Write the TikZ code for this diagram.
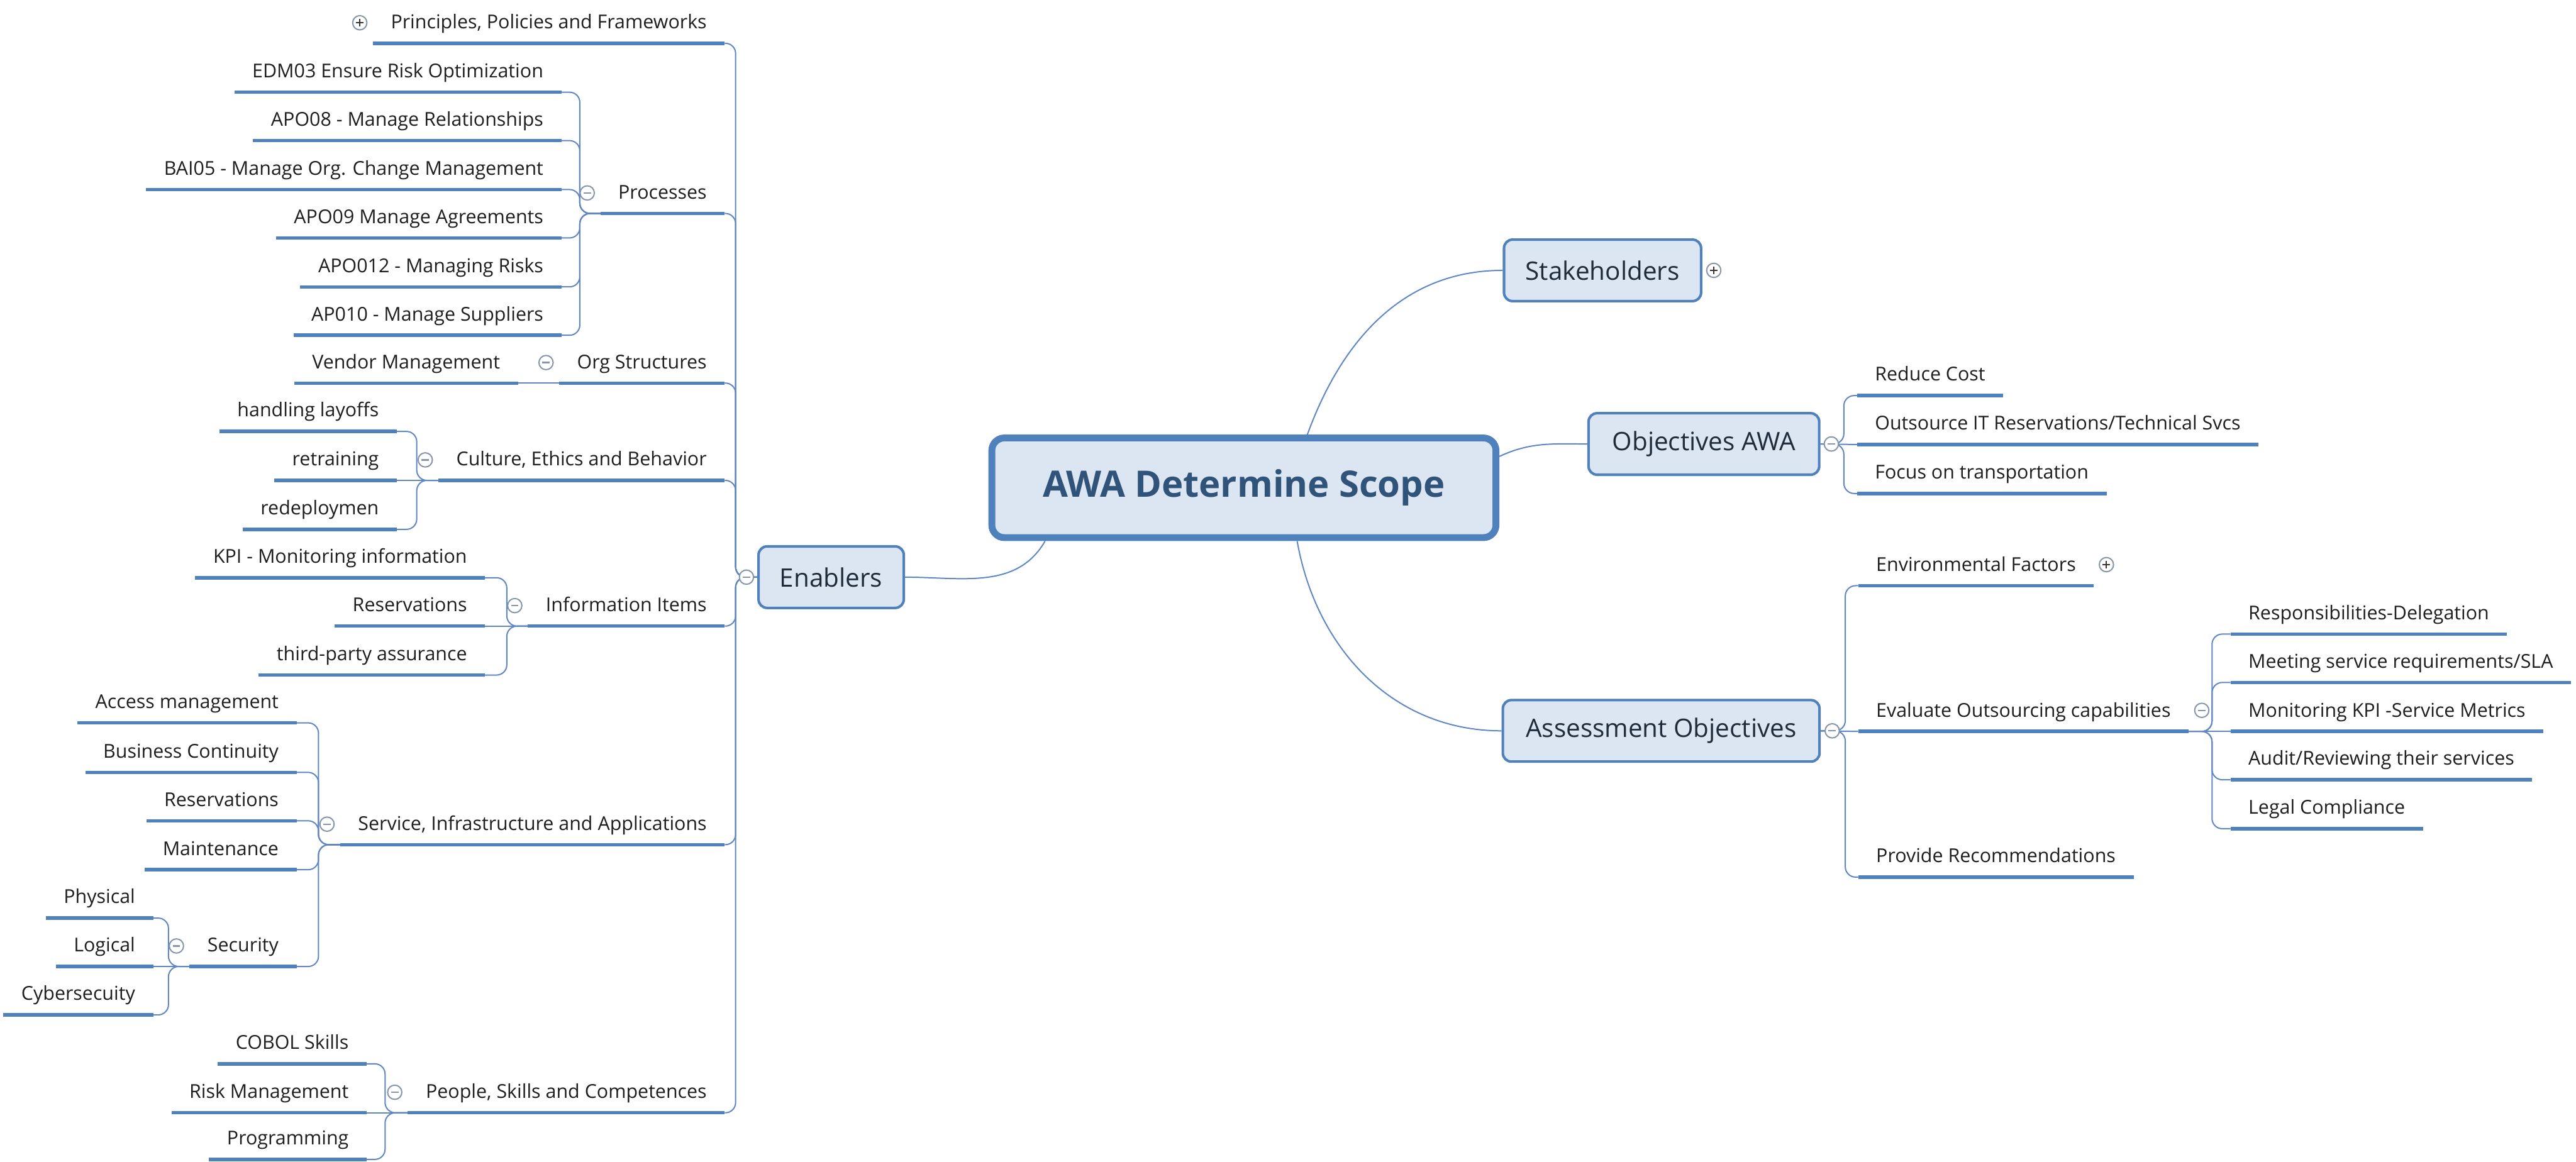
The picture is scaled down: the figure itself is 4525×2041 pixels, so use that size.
\documentclass[tikz,border=0pt]{standalone}
\usepackage{fontspec}
\setmainfont{Open Sans}
\usetikzlibrary{positioning, calc}
\definecolor{ulblue}{HTML}{4F81BD}
\definecolor{lnblue}{HTML}{5F87C6}
\definecolor{boxfill}{HTML}{DCE6F2}
\definecolor{roottxt}{HTML}{30537A}
\definecolor{topictxt}{HTML}{1F2B3A}
\definecolor{leaftxt}{HTML}{1E1E1E}
\definecolor{icongray}{HTML}{8596AC}
\begin{document}
\begin{tikzpicture}[x=0.01cm, y=-0.01cm, line width=.9pt]
% Block styles
\tikzstyle{root}=[draw=ulblue, fill=boxfill, line width=0.12cm, rounded corners=0.22cm, minimum width=8.85cm, minimum height=1.75cm, text=roottxt, font=\fontsize{18.2}{21}\selectfont\bfseries]
\tikzstyle{topic}=[draw=ulblue, fill=boxfill, line width=0.045cm, rounded corners=0.15cm, minimum height=1.08cm, text=topictxt, font=\fontsize{12.7}{15}\selectfont]
\tikzstyle{sub}=[inner xsep=0.3cm, inner ysep=0pt, text height=0.3cm, text depth=0.24cm, text=leaftxt, font=\fontsize{9.55}{11}\selectfont]
\tikzstyle{subl}=[sub, anchor=south east]
\tikzstyle{subr}=[sub, anchor=south west]
\tikzstyle{ul}=[draw=ulblue, line width=0.06cm]
\tikzstyle{conn}=[draw=lnblue, line width=0.022cm]
\tikzstyle{brk}=[conn, rounded corners=0.18cm]
\tikzstyle{togm}=[circle, draw=icongray, fill=white, line width=0.022cm, minimum size=0.25cm, inner sep=0pt, path picture={\draw[icongray, line width=0.025cm] ([xshift=0.06cm]path picture bounding box.west) -- ([xshift=-0.06cm]path picture bounding box.east);}]
\tikzstyle{togp}=[circle, draw=icongray, fill=white, line width=0.022cm, minimum size=0.25cm, inner sep=0pt, path picture={\draw[black!80, line width=0.025cm] ([xshift=0.06cm]path picture bounding box.west) -- ([xshift=-0.06cm]path picture bounding box.east) ([yshift=0.06cm]path picture bounding box.south) -- ([yshift=-0.06cm]path picture bounding box.north);}]
\path[use as bounding box, fill=white] (0,0) rectangle (4525,2041);
% Central and main topics
\node[root] (root) at (2185,857) {AWA Determine Scope};
\node[topic, minimum width=2.55cm] (enab) at (1460,1014) {Enablers};
\node[topic, minimum width=3.46cm] (stake) at (2815,475) {Stakeholders};
\node[topic, minimum width=4.05cm] (obj) at (2993,780) {Objectives AWA};
\node[topic, minimum width=5.56cm] (assess) at (2918,1284) {Assessment Objectives};
% Enablers
\node[subl] (prin) at (1273,76) {Principles, Policies and Frameworks};
\node[subl] (proc) at (1273,375) {Processes};
\node[subl] (org) at (1273,673) {Org Structures};
\node[subl] (cult) at (1273,844) {Culture, Ethics and Behavior};
\node[subl] (info) at (1273,1100) {Information Items};
\node[subl] (serv) at (1273,1484) {Service, Infrastructure and Applications};
\node[subl] (ppl) at (1273,1955) {People, Skills and Competences};
% Processes
\node[subl] (edm) at (986,162) {EDM03 Ensure Risk Optimization};
\node[subl] (apo8) at (986,247) {APO08 - Manage Relationships};
\node[subl] (bai) at (986,333) {BAI05 - Manage Org. Change Management};
\node[subl] (apo9) at (986,418) {APO09 Manage Agreements};
\node[subl] (apo12) at (986,504) {APO012 - Managing Risks};
\node[subl] (ap10) at (986,589) {AP010 - Manage Suppliers};
% Org, culture, information
\node[subl] (vend) at (910,673) {Vendor Management};
\node[subl] (layo) at (697,758) {handling layoffs};
\node[subl] (retr) at (697,844) {retraining};
\node[subl] (rede) at (697,930) {redeploymen};
\node[subl] (kpi) at (852,1015) {KPI - Monitoring information};
\node[subl] (resv) at (852,1100) {Reservations};
\node[subl] (tpa) at (852,1186) {third-party assurance};
% Service, infrastructure
\node[subl] (acc) at (521,1270) {Access management};
\node[subl] (bcont) at (521,1357) {Business Continuity};
\node[subl] (resv2) at (521,1442) {Reservations};
\node[subl] (maint) at (521,1528) {Maintenance};
\node[subl] (sec) at (521,1698) {Security};
\node[subl] (phys) at (269,1613) {Physical};
\node[subl] (logi) at (269,1698) {Logical};
\node[subl] (cyber) at (269,1783) {Cybersecuity};
% People
\node[subl] (cobol) at (644,1869) {COBOL Skills};
\node[subl] (riskm) at (644,1955) {Risk Management};
\node[subl] (prog) at (644,2037) {Programming};
% Objectives
\node[subr] (rcost) at (3262,695) {Reduce Cost};
\node[subr] (outs) at (3262,781) {Outsource IT Reservations/Technical Svcs};
\node[subr] (focus) at (3262,867) {Focus on transportation};
% Assessment
\node[subr] (envf) at (3264,1029) {Environmental Factors};
\node[subr] (evalo) at (3264,1285) {Evaluate Outsourcing capabilities};
\node[subr] (provr) at (3264,1541) {Provide Recommendations};
\node[subr] (resp) at (3918,1114) {Responsibilities-Delegation};
\node[subr] (meet) at (3918,1199) {Meeting service requirements/SLA};
\node[subr] (moni) at (3918,1285) {Monitoring KPI -Service Metrics};
\node[subr] (audit) at (3918,1370) {Audit/Reviewing their services};
\node[subr] (legal) at (3918,1456) {Legal Compliance};
% Underlines
\foreach \n in {prin,proc,org,cult,info,serv,ppl,edm,apo8,bai,apo9,apo12,ap10,vend,layo,retr,rede,kpi,resv,tpa,acc,bcont,resv2,maint,sec,phys,logi,cyber,cobol,riskm,prog,rcost,outs,focus,envf,evalo,provr,resp,meet,moni,audit,legal}
  \draw[ul] (\n.south west) -- (\n.south east);
% Connectors
\draw[conn] (root.195) to[out=240, in=0] (enab.east);
\draw[conn] (root.40) to[out=70, in=180] (stake.west);
\draw[conn] (root.7) to[out=25, in=180] (obj.west);
\draw[conn] (root.-45) to[out=-80, in=180] (assess.west);
\foreach \c in {prin,proc,org,cult,info,serv,ppl} \draw[brk] (enab.west) -- ++(-38,0) |- (\c.south east);
\foreach \c in {edm,apo8,bai,apo9,apo12,ap10} \draw[brk] (proc.south west) -- ++(-36,0) |- (\c.south east);
\draw[conn] (org.south west) -- (vend.south east);
\foreach \c in {layo,rede} \draw[brk] (cult.south west) -- ++(-38,0) |- (\c.south east);
\draw[conn] (cult.south west) -- (retr.south east);
\foreach \c in {kpi,tpa} \draw[brk] (info.south west) -- ++(-37,0) |- (\c.south east);
\draw[conn] (info.south west) -- (resv.south east);
\foreach \c in {acc,bcont,resv2,maint,sec} \draw[brk] (serv.south west) -- ++(-38,0) |- (\c.south east);
\foreach \c in {phys,cyber} \draw[brk] (sec.south west) -- ++(-37,0) |- (\c.south east);
\draw[conn] (sec.south west) -- (logi.south east);
\foreach \c in {cobol,prog} \draw[brk] (ppl.south west) -- ++(-40,0) |- (\c.south east);
\draw[conn] (ppl.south west) -- (riskm.south east);
\foreach \c in {rcost,focus} \draw[brk] (obj.east) -- ++(41,0) |- (\c.south west);
\draw[conn] (obj.east) -- (outs.south west);
\foreach \c in {envf,provr} \draw[brk] (assess.east) -- ++(43,0) |- (\c.south west);
\draw[conn] (assess.east) -- (evalo.south west);
\foreach \c in {resp,meet,audit,legal} \draw[brk] (evalo.south east) -- ++(41,0) |- (\c.south west);
\draw[conn] (evalo.south east) -- (moni.south west);
% Collapse / expand marks
\node[togm] (tenab) at ([xshift=-0.19cm]enab.west) {};
\node[togp] (tstake) at ([xshift=0.2cm]stake.east) {};
\node[togm] (tobj) at ([xshift=0.19cm]obj.east) {};
\node[togm] (tassess) at ([xshift=0.2cm]assess.east) {};
\node[togp] (tprin) at ([xshift=-0.23cm, yshift=0.36cm]prin.south west) {};
\foreach \n in {proc,org,cult,info,serv,sec,ppl}
  \node[togm] (t\n) at ([xshift=-0.23cm, yshift=0.36cm]\n.south west) {};
\node[togp] (tenvf) at ([xshift=0.22cm, yshift=0.37cm]envf.south east) {};
\node[togm] (tevalo) at ([xshift=0.23cm, yshift=0.37cm]evalo.south east) {};
\end{tikzpicture}
\end{document}
